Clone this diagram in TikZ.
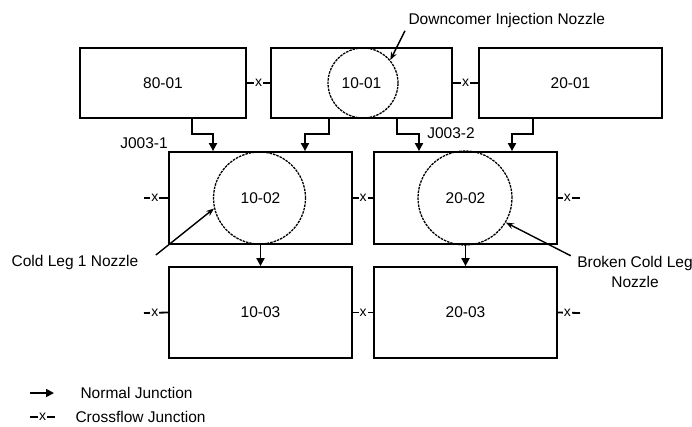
\documentclass[tikz,border=0pt]{standalone}
\usepackage{fontspec}
\setmainfont{Liberation Sans}
\usetikzlibrary{arrows.meta, positioning, calc}

\begin{document}
\begin{tikzpicture}[
    x=1pt, y=-1pt,
    every node/.style={font=\fontsize{15.5}{20}\selectfont},
    block/.style={rectangle, draw, line width=1.8pt, minimum width=183pt, minimum height=92pt, inner sep=0pt},
    nozzle/.style={circle, draw, line width=1.3pt, dash pattern=on 2.5pt off 1pt, minimum size=#1, inner sep=0pt},
    line/.style={draw, line width=1.8pt, -{Triangle[length=8pt,width=8pt]}},
    xflow/.style={draw, line width=1.8pt},
    xmark/.style={fill=white, inner sep=1pt, font=\fontsize{14}{16}\selectfont},
    callout/.style={draw, line width=1.4pt, -{Stealth[length=8pt,width=6pt]}}
]
\useasboundingbox (0,0) rectangle (692,426);

\node [block, minimum width=166pt, minimum height=70pt] (b8001) at (163,83) {80-01};
\node [block, minimum width=181pt, minimum height=70pt] (b1001) at (361.5,83) {10-01};
\node [block, minimum width=183pt, minimum height=70pt] (b2001) at (570.5,83) {20-01};
\node [block] (b1002) at (260.5,198) {10-02};
\node [block] (b2002) at (465.5,198) {20-02};
\node [block, minimum height=91pt] (b1003) at (260.5,312.5) {10-03};
\node [block, minimum height=91pt] (b2003) at (465.5,312.5) {20-03};

\node [nozzle=70pt] (c1001) at (363,83) {};
\node [nozzle=92pt] (c1002) at (259.5,198) {};
\node [nozzle=94pt] (c2002) at (465,198) {};

\path [line] ([xshift=29pt]b8001.south) -- ++(0,15) -| ([xshift=-47.5pt]b1002.north);
\path [line] ([xshift=-32.5pt]b1001.south) -- ++(0,15) -| ([xshift=44.5pt]b1002.north);
\path [line] ([xshift=35.5pt]b1001.south) -- ++(0,15) -| ([xshift=-46.5pt]b2002.north);
\path [line] ([xshift=-37.5pt]b2001.south) -- ++(0,15) -| ([xshift=46.5pt]b2002.north);
\path [line] (b1002) -- (b1003);
\path [line] (b2002) -- (b2003);

\node (j1) at (144,143) {J003-1};
\node (j2) at (451,133) {J003-2};

\path [xflow] (b8001) -- node [xmark] {x} (b1001);
\path [xflow] (b1001) -- node [xmark] {x} (b2001);
\path [xflow] (b1002) -- node [xmark] {x} (b2002);
\path [xflow] (b1003) -- node [xmark] {x} (b2003);

\coordinate (l1002) at (144,198);
\coordinate (l1003) at (144,313);
\coordinate (r2002) at (580,198);
\coordinate (r2003) at (580,313);
\path [xflow] (l1002) -- node [xmark, pos=0.45] {x} (b1002.west);
\path [xflow] (l1003) -- node [xmark, pos=0.45] {x} (b1003.west);
\path [xflow] (b2002.east) -- node [xmark, pos=0.43] {x} (r2002);
\path [xflow] (b2003.east) -- node [xmark, pos=0.43] {x} (r2003);

\node [anchor=west] (dcin) at (405,20) {Downcomer Injection Nozzle};
\node (cl1) at (75,262) {Cold Leg 1 Nozzle};
\node [align=center] (bcl) at (635,272) {Broken Cold Leg\\Nozzle};
\path [callout] (dcin.south west) -- (c1001.40);
\path [callout] ([shift={(14pt,7pt)}]cl1.east) -- (c1002.193);
\path [callout] ([shift={(-3pt,-3pt)}]bcl.north west) -- (c2002.-31);

\coordinate (lga) at (30,393);
\coordinate (lgb) at (54,393);
\coordinate (lgc) at (30,417);
\coordinate (lgd) at (55,417);
\path [line] (lga) -- (lgb);
\path [xflow] (lgc) -- node [xmark] {x} (lgd);
\node [anchor=west] (lgn) at (77,393) {Normal Junction};
\node [anchor=west] (lgx) at (72,417) {Crossflow Junction};

\end{tikzpicture}
\end{document}
